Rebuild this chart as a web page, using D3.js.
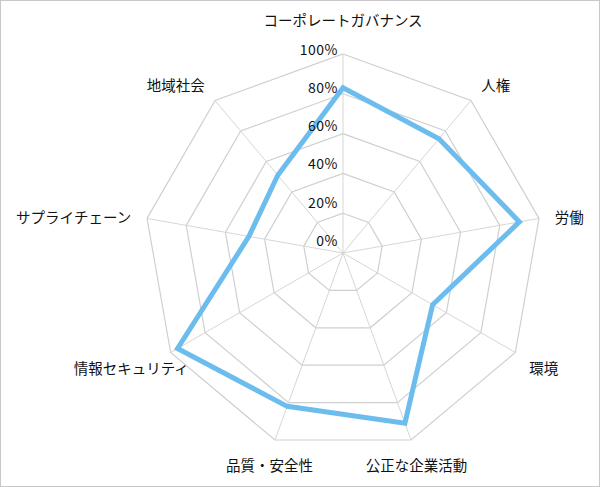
<!DOCTYPE html>
<html>
<head>
<meta charset="utf-8">
<script src="https://cdn.jsdelivr.net/npm/d3@7"></script>
<style>
  body { margin: 0; background: #fff; }
  svg text { font-family: "Noto Sans CJK JP", "Noto Sans", sans-serif; fill: #111; }
</style>
</head>
<body>
<script>
// カテゴリ（時計回り、上から）
const categories = [
  "コーポレートガバナンス",
  "人権",
  "労働",
  "環境",
  "公正な企業活動",
  "品質・安全性",
  "情報セキュリティ",
  "サプライチェーン",
  "地域社会",
];
// スコア (%)
const scores = [83, 75, 90, 52, 91, 82, 96, 48, 51];
// 目盛り
const ticks = [0, 20, 40, 60, 80, 100];
const tickLabels = ["0%", "20%", "40%", "60%", "80%", "100%"];

const width = 600;
const height = 487;
const cx = 343;
const cy = 253;
const radius = 199;

const svg = d3
  .select("body")
  .append("svg")
  .attr("width", width)
  .attr("height", height);

// 外枠
svg
  .append("rect")
  .attr("x", 0.5)
  .attr("y", 0.5)
  .attr("width", width - 1)
  .attr("height", height - 1)
  .attr("fill", "#fff")
  .attr("stroke", "#c8c8c8");

const g = svg.append("g").attr("transform", `translate(${cx},${cy})`);

const r = d3.scaleLinear().domain([0, 100]).range([0, radius]);
const angle = d3
  .scaleLinear()
  .domain([0, categories.length])
  .range([0, 2 * Math.PI]);

// グリッド（多角形）
const ring = d3
  .lineRadial()
  .angle((d, i) => angle(i))
  .radius((d) => r(d))
  .curve(d3.curveLinearClosed);

g.selectAll(".ring")
  .data(ticks.filter((t) => t > 0))
  .enter()
  .append("path")
  .attr("class", "ring")
  .attr("d", (t) => ring(categories.map(() => t)))
  .attr("fill", "none")
  .attr("stroke", "#cfcfcf")
  .attr("stroke-width", 1.2);

// 軸線
g.selectAll(".spoke")
  .data(categories)
  .enter()
  .append("line")
  .attr("class", "spoke")
  .attr("x1", 0)
  .attr("y1", 0)
  .attr("x2", (d, i) => r(100) * Math.sin(angle(i)))
  .attr("y2", (d, i) => -r(100) * Math.cos(angle(i)))
  .attr("stroke", "#d6d6d6")
  .attr("stroke-width", 1);

// データ線
g.append("path")
  .datum(scores)
  .attr("d", ring)
  .attr("fill", "none")
  .attr("stroke", "#6cbdee")
  .attr("stroke-width", 5)
  .attr("stroke-linejoin", "miter");

// 目盛りラベル（線の上に描く）
g.selectAll(".tick-label")
  .data(ticks)
  .enter()
  .append("text")
  .attr("class", "tick-label")
  .attr("x", -5)
  .attr("y", (t) => -12 - 0.96 * r(t))
  .attr("dy", "0.35em")
  .attr("text-anchor", "end")
  .style("font-size", "14px")
  .style("letter-spacing", "0.5px")
  .text((t, i) => tickLabels[i]);

// カテゴリラベル
const labelNudge = { "情報セキュリティ": 32 };
const labelR = 215;

g.selectAll(".cat-label")
  .data(categories)
  .enter()
  .append("text")
  .attr("class", "cat-label")
  .each(function (d, i) {
    const ux = Math.sin(angle(i));
    const uy = -Math.cos(angle(i));
    const middle = Math.abs(ux) < 0.5;
    const anchor = middle ? "middle" : ux > 0 ? "start" : "end";
    const off = middle ? -2.6 + 14.4 * uy : 4 + 8 * uy;
    d3.select(this)
      .attr("x", labelR * ux + (labelNudge[d] || 0))
      .attr("y", labelR * uy + off)
      .attr("dy", "0.35em")
      .attr("text-anchor", anchor);
  })
  .style("font-size", "14.5px")
  .text((d) => d);
</script>
</body>
</html>
